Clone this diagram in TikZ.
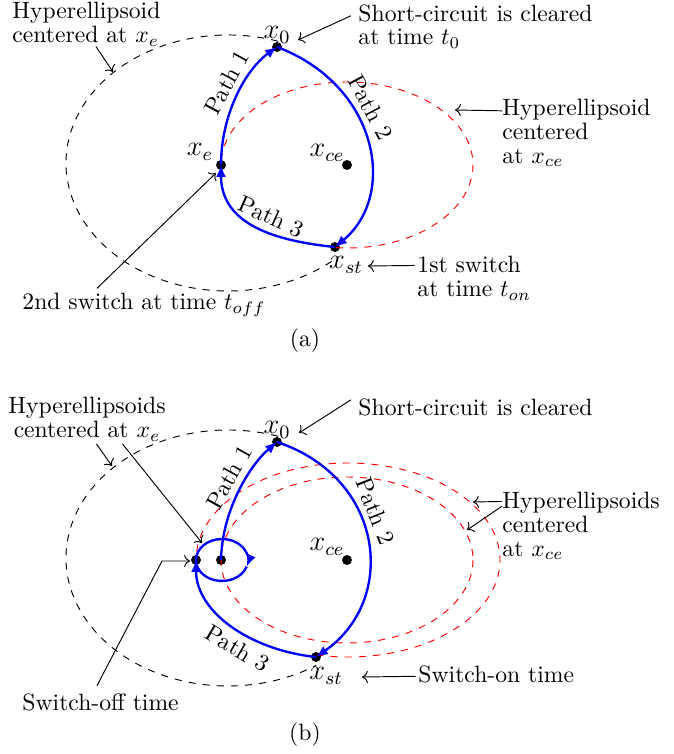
\documentclass[tikz,border=0pt]{standalone}
\usepackage{amsmath}
\usetikzlibrary{arrows.meta}

\tikzset{
  dot/.style={circle,fill=black,inner sep=0pt,minimum size=4.2pt},
  traj/.style={blue,line width=1pt,-{Latex[length=5pt,width=4.2pt]}},
  hype/.style={dashed},
  hypce/.style={red,dashed},
  note/.style={align=left,inner sep=0pt,font=\fontsize{10}{10}\selectfont},
  state/.style={font=\large,inner sep=0pt},
  pathlbl/.style={sloped,text=black,inner sep=2.5pt},
}

\begin{document}
\begin{tikzpicture}[x=0.423pt,y=-0.423pt,>=To]
  \useasboundingbox (0,0) rectangle (673,754);

  % =========================================================
  % (a) one switch on, one switch off
  % =========================================================

  % states
  \coordinate (hypA) at (228,163);
  \node[dot] (x0A) at (277,47) {};
  \node[dot] (xeA) at (221,165) {};
  \node[dot] (xcA) at (347,165) {};
  \node[dot] (xsA) at (335,247) {};

  \node[state] (lx0A) at (277,35) {$x_0$};
  \node[state] (lxeA) at (200,152) {$x_e$};
  \node[state] (lxcA) at (327,153) {$x_{ce}$};
  \node[state] (lxsA) at (346,265) {$x_{st}$};

  % hyperellipsoids
  \draw[hype] (hypA) ++(-72:162 and 128)
    arc[start angle=-72,end angle=-313,x radius=162,y radius=128];
  \draw[hypce] (xcA) ++(95:126 and 83)
    arc[start angle=95,end angle=-180,x radius=126,y radius=83];

  % trajectory
  \draw[traj] (xeA.center) .. controls (221,115) and (245,70) .. (x0A.center)
    node[pathlbl,above,pos=0.55] {Path 1};
  \draw[traj] (x0A.center) .. controls (378,85) and (398,195) .. (xsA.center)
    node[pathlbl,above,pos=0.38] {Path 2};
  \draw[traj] (xsA.center) .. controls (265,240) and (221,220) .. (xeA.center)
    node[pathlbl,above,pos=0.4] {Path 3};

  % notes
  \node[note,anchor=north west] (noteXeA) at (12,2) {Hyperellipsoid\\centered at $x_e$};
  \coordinate (tipXeA) at (113,72);
  \draw[->] ([xshift=4pt]noteXeA.south) -- (tipXeA);

  \node[note,anchor=north west] (noteZeroA) at (358,4) {Short-circuit is cleared\\at time $t_0$};
  \coordinate (tipZeroA) at (298,40);
  \draw[->] ([xshift=-3pt,yshift=-5pt]noteZeroA.north west) -- (tipZeroA);

  \node[note,anchor=north west] (noteCeA) at (502,99) {Hyperellipsoid\\centered\\at $x_{ce}$};
  \coordinate (tipCeA) at (455,110);
  \draw[->] ([yshift=-5pt]noteCeA.north west) -- (tipCeA);

  \node[note,anchor=north west] (noteOnA) at (417,256) {1st switch\\at time $t_{on}$};
  \coordinate (tipOnA) at (368,266);
  \draw[->] ([xshift=-1pt,yshift=-4pt]noteOnA.north west) -- (tipOnA);

  \node[note,anchor=base west] (noteOffA) at (22,310) {2nd switch at time $t_{off}$};
  \coordinate (tipOffA) at (216,173);
  \draw[->] ([xshift=31.7pt,yshift=2pt]noteOffA.north west) -- (tipOffA);

  \node[anchor=base] (capA) at (305,347) {(a)};

  % =========================================================
  % (b) chattering around x_e
  % =========================================================

  % states
  \coordinate (hypB) at (228,558);
  \node[dot] (x0B) at (277,442) {};
  \node[dot] (xeB) at (221,560) {};
  \node[dot] (xlB) at (196,560) {};
  \node[dot] (xcB) at (347,560) {};
  \node[dot] (xsB) at (316,657) {};

  \node[state] (lx0B) at (277,430) {$x_0$};
  \node[state] (lxcB) at (327,547) {$x_{ce}$};
  \node[state] (lxsB) at (326,676) {$x_{st}$};

  % hyperellipsoids
  \draw[hype] (hypB) ++(-72:162 and 128)
    arc[start angle=-72,end angle=-303,x radius=162,y radius=128];
  \draw[hypce] (xcB) ellipse[x radius=126,y radius=83];
  \draw[hypce] (348,560) ++(102:152 and 97)
    arc[start angle=102,end angle=-180,x radius=152,y radius=97];

  % trajectory
  \draw[traj] (xeB.center) .. controls (222,510) and (250,465) .. (x0B.center)
    node[pathlbl,above,pos=0.55] {Path 1};
  \draw[traj] (x0B.center) .. controls (385,478) and (398,600) .. (xsB.center)
    node[pathlbl,above,pos=0.4] {Path 2};
  \draw[traj] (xsB.center) .. controls (250,650) and (196,612) .. (xlB.center)
    node[pathlbl,below,pos=0.4] {Path 3};
  \draw[traj] (xlB.center) arc[start angle=180,end angle=378,x radius=26,y radius=21];
  \draw[blue,line width=1pt] (xlB.center) ++(26,0) ++(18:26 and 21)
    arc[start angle=18,end angle=180,x radius=26,y radius=21];

  % notes
  \node[note,align=center,anchor=north] (noteXeB) at (87,397) {Hyperellipsoids\\centered at $x_e$};
  \coordinate (tipXeB) at (112,466);
  \coordinate (tipXlB) at (202,543);
  \draw[->] ([xshift=4pt,yshift=-1pt]noteXeB.south) -- (tipXeB);
  \draw[->] ([xshift=15pt,yshift=-1pt]noteXeB.south) -- (tipXlB);

  \node[note,anchor=base west] (noteZeroB) at (358,415) {Short-circuit is cleared};
  \coordinate (tipZeroB) at (299,433);
  \draw[->] ([xshift=-3pt,yshift=3pt]noteZeroB.west) -- (tipZeroB);

  \node[note,anchor=north west] (noteCeB) at (502,492) {Hyperellipsoids\\centered\\at $x_{ce}$};
  \coordinate (tipCeB) at (473,502);
  \coordinate (tipCiB) at (467,530);
  \draw[->] ([yshift=-4pt]noteCeB.north west) -- (tipCeB);
  \draw[->] ([yshift=-6pt]noteCeB.north west) -- (tipCiB);

  \node[note,anchor=base west] (noteOnB) at (418,682) {Switch-on time};
  \coordinate (tipOnB) at (362,677);
  \draw[->] ([xshift=-1pt,yshift=-1pt]noteOnB.west) -- (tipOnB);

  \node[note,anchor=base west] (noteOffB) at (22,710) {Switch-off time};
  \coordinate (tipOffB) at (190,561);
  \draw[->] ([xshift=31.7pt,yshift=3pt]noteOffB.north west) -- (162,561) -- (tipOffB);

  \node[anchor=base] (capB) at (305,740) {(b)};

\end{tikzpicture}
\end{document}
